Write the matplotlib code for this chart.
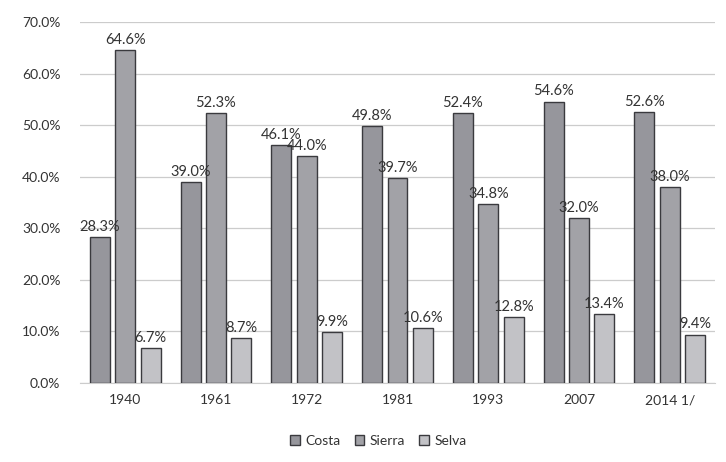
import matplotlib
matplotlib.use("Agg")
import matplotlib.pyplot as plt
import numpy as np

years = ["1940", "1961", "1972", "1981", "1993", "2007", "2014 1/"]
costa = [28.3, 39.0, 46.1, 49.8, 52.4, 54.6, 52.6]
sierra = [64.6, 52.3, 44.0, 39.7, 34.8, 32.0, 38.0]
selva = [6.7, 8.7, 9.9, 10.6, 12.8, 13.4, 9.4]

series = [("Costa", costa, "#96969c"),
          ("Sierra", sierra, "#a2a2a7"),
          ("Selva", selva, "#c2c2c6")]

plt.rcParams["font.family"] = ["Lato", "DejaVu Sans"]

fig = plt.figure(figsize=(7.26, 4.62), dpi=100)
ax = fig.add_axes([0.110, 0.171, 0.875, 0.781])

x = np.arange(len(years))
width = 0.22
offsets = [-0.28, 0.0, 0.28]

for (name, vals, col), off in zip(series, offsets):
    bars = ax.bar(x + off, vals, width, color=col, edgecolor="#3a3a3e",
                  linewidth=1.0, label=name, zorder=3)
    for b, v in zip(bars, vals):
        ax.text(b.get_x() + b.get_width() / 2, v + 0.6, f"{v:.1f}%",
                ha="center", va="bottom", fontsize=10.5, color="#333333", zorder=4)

ax.set_ylim(0, 70)
ax.set_xlim(-0.5, len(years) - 0.5)
ax.set_yticks(np.arange(0, 71, 10))
ax.set_yticklabels([f"{t:.1f}%" for t in np.arange(0, 71, 10)], fontsize=10, color="#333333")
ax.set_xticks(x)
ax.set_xticklabels(years, fontsize=10, color="#333333")
ax.tick_params(axis="both", length=0, pad=8)
ax.tick_params(axis="y", pad=14)
ax.yaxis.grid(True, color="#cccccc", linewidth=0.9, zorder=0)
for s in ["top", "right", "left"]:
    ax.spines[s].set_visible(False)
ax.spines["bottom"].set_color("#cccccc")

ax.legend(loc="upper center", bbox_to_anchor=(0.47, -0.11), ncol=3, frameon=False,
          fontsize=10, handlelength=0.7, handleheight=0.7, handletextpad=0.4,
          columnspacing=1.0, labelcolor="#333333")

fig.savefig("out.png", dpi=100)
